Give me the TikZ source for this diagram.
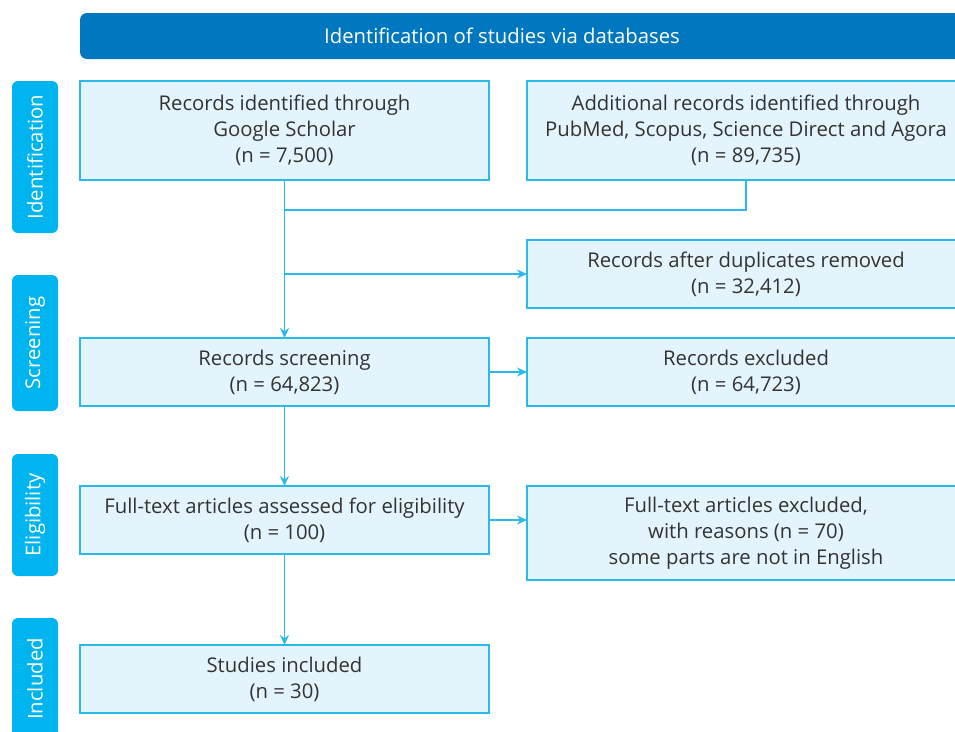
\documentclass[tikz,border=0pt]{standalone}
\usepackage{fontspec}
\setmainfont{Open Sans}
\usetikzlibrary{positioning, arrows.meta}
\definecolor{hdrblue}{HTML}{0077BE}
\definecolor{sidecyan}{HTML}{00B5EF}
\definecolor{boxline}{HTML}{29B9EA}
\definecolor{boxfill}{HTML}{E3F4FC}
\definecolor{txtgray}{HTML}{333333}

\begin{document}
\begin{tikzpicture}[
  x=1pt, y=-1pt, >={Stealth[length=10pt, width=9pt]},
  font=\fontsize{20.3}{26}\selectfont, node distance=38pt,
  box/.style={draw=boxline, fill=boxfill, line width=1.6pt, minimum width=409pt,
    minimum height=68pt, align=center, text=txtgray, inner sep=0pt, outer sep=0pt},
  wide/.style={box, minimum width=438pt},
  side/.style={fill=sidecyan, rounded corners=6pt, rotate=90, minimum height=46pt,
    text=white, inner sep=0pt},
  link/.style={draw=boxline, line width=1.6pt},
  arrow/.style={link, ->}
]
\useasboundingbox (0,0) rectangle (955,731);

% header bar
\fill[hdrblue, rounded corners=7pt] (80,13) rectangle (975,59);
\node[text=white] (title) at (502,36) {Identification of studies via databases};

% phase labels
\node[side, minimum width=152pt] (sideid) at (35,157) {Identification};
\node[side, minimum width=136pt] (sidescr) at (35,343) {Screening};
\node[side, minimum width=122pt] (sideelig) at (35,515) {Eligibility};
\node[side, minimum width=122pt] (sideinc) at (35,679) {Included};

% left column
\node[box, minimum height=99pt] (rec) at (284.5,130.5) {Records identified through\\Google Scholar\\(n = 7,500)};
\node[box, below=158pt of rec] (screen) {Records screening\\(n = 64,823)};
\node[box, below=80pt of screen] (elig) {Full-text articles assessed for eligibility\\(n = 100)};
\node[box, below=91pt of elig] (incl) {Studies included\\(n = 30)};

% right column
\node[wide, minimum height=99pt, right=38pt of rec] (add) {Additional records identified through\\PubMed, Scopus, Science Direct and Agora\\(n = 89,735)};
\node[wide, right=38pt of screen] (excl) {Records excluded\\(n = 64,723)};
\node[wide, above=30pt of excl] (dup) {Records after duplicates removed\\(n = 32,412)};
\node[wide, minimum height=94pt, anchor=north west] (ftex) at ([xshift=38pt]elig.north east)
  {Full-text articles excluded,\\with reasons (n = 70)\\some parts are not in English};

\coordinate[below=30pt of rec] (merge);
\coordinate[below=94pt of rec] (split);

\draw[link] (add.south) |- (merge);
\draw[arrow] (rec) -- (screen);
\draw[arrow] (split) -- (dup.west);
\draw[arrow] (screen) -- (excl);
\draw[arrow] (elig.east) -- (elig.east -| ftex.west);
\draw[arrow] (screen) -- (elig);
\draw[arrow] (elig) -- (incl);
\end{tikzpicture}
\end{document}
